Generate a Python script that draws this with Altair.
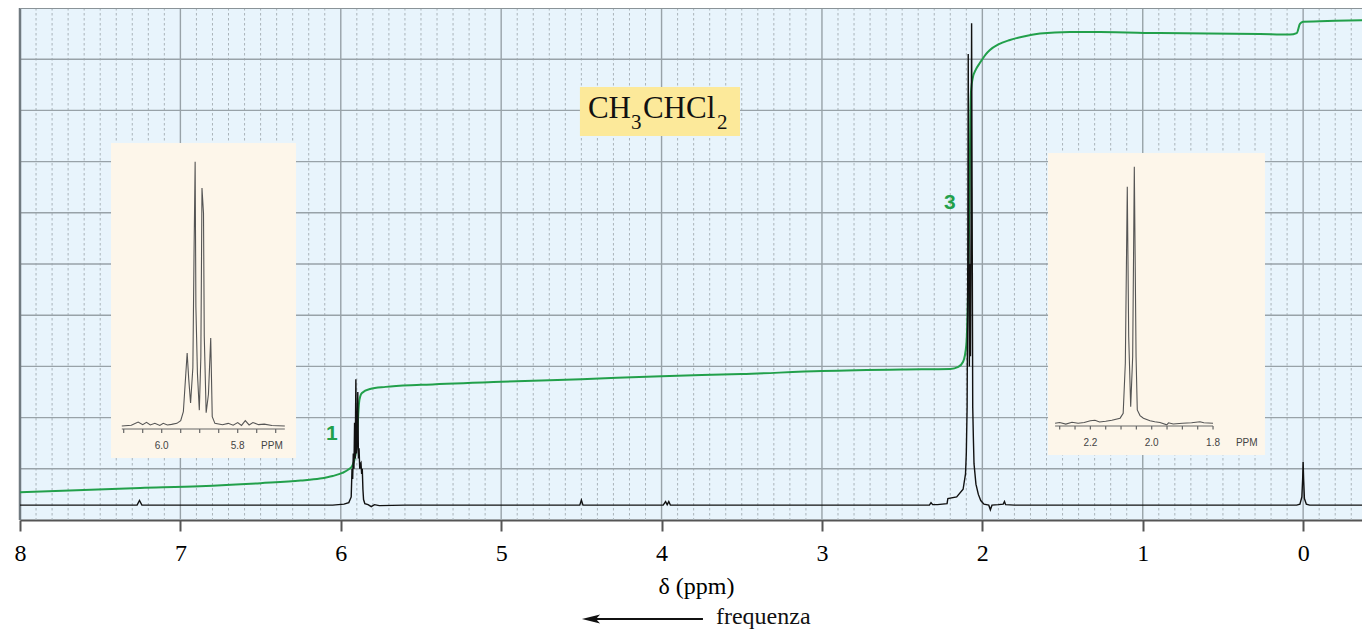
import altair as alt
import pandas as pd

# ---------------- data ----------------
# main 1H spectrum (delta ppm, intensity in grid units)
spec_ppm = [8.0, 7.5, 7.27, 7.255, 7.24, 6.5, 6.05, 5.98, 5.95, 5.935, 5.93, 5.926, 5.922, 5.918,
            5.914, 5.91, 5.906, 5.902, 5.898, 5.894, 5.89, 5.886, 5.882, 5.878, 5.874, 5.87, 5.866,
            5.862, 5.858, 5.85, 5.83, 5.81, 5.79, 5.76, 5.6, 5.0, 4.51, 4.50,
            4.49, 4.2, 3.99, 3.975, 3.965, 3.955, 3.945, 3.6, 2.6, 2.33, 2.32, 2.31, 2.28, 2.22,
            2.215, 2.16, 2.12, 2.105, 2.1, 2.095, 2.091, 2.088, 2.085, 2.081, 2.078, 2.074, 2.07,
            2.067, 2.064, 2.06, 2.056, 2.052, 2.046, 2.04, 2.025,
            2.01, 1.99, 1.96, 1.95, 1.94, 1.9, 1.87, 1.862, 1.855, 1.8, 1.5, 1.0, 0.5, 0.04, 0.02,
            0.008, 0.003, 0.0, -0.003, -0.008, -0.02, -0.04, -0.2, -0.367]
spec_int = [0.29, 0.29, 0.29, 0.38, 0.29, 0.29, 0.29, 0.31, 0.34, 0.45, 1.0, 0.8, 1.3, 1.0,
            1.9, 1.2, 2.75, 1.3, 1.5, 2.5, 1.2, 1.4, 1.0, 1.1, 1.12, 0.9, 1.0,
            0.6, 0.4, 0.32, 0.3, 0.26, 0.3, 0.28, 0.29, 0.29, 0.29, 0.39,
            0.29, 0.29, 0.29, 0.36, 0.3, 0.36, 0.29, 0.29, 0.29, 0.29, 0.34, 0.3, 0.3, 0.32,
            0.42, 0.45, 0.6, 0.9, 1.3, 2.2, 5.0, 9.1, 6.0, 3.0, 5.0, 3.2, 6.0,
            9.7, 6.5, 2.2, 1.6, 1.1, 0.9, 0.7, 0.5,
            0.38, 0.31, 0.29, 0.2, 0.29, 0.3, 0.31, 0.36, 0.3, 0.29, 0.29, 0.29, 0.29, 0.29, 0.31,
            0.45, 0.8, 1.13, 0.8, 0.42, 0.31, 0.29, 0.29, 0.29]

# integral trace (green)
integ_ppm = [8.0, 7.25, 6.88, 6.5, 6.25, 6.13, 6.05, 5.99, 5.95, 5.93, 5.911, 5.899, 5.893, 5.886,
             5.878, 5.868, 5.818, 5.72, 5.5, 5.0, 4.5, 4.0, 3.5, 3.0, 2.5, 2.2, 2.15, 2.12, 2.10,
             2.09, 2.08, 2.075, 2.07, 2.06, 2.04, 2.015, 2.0, 1.98, 1.953, 1.9, 1.828, 1.75, 1.641,
             1.454, 1.267, 0.893, 0.269, 0.082, 0.04, 0.02, 0.0, -0.2, -0.367]
integ_val = [0.54, 0.625, 0.66, 0.72, 0.77, 0.81, 0.86, 0.92, 0.99, 1.05, 1.23, 1.56, 1.95, 2.29,
             2.42, 2.48, 2.56, 2.60, 2.64, 2.70, 2.75, 2.81, 2.85, 2.91, 2.94, 2.95, 2.99, 3.09, 3.42,
             4.30, 6.25, 7.81, 8.40, 8.63, 8.80, 8.93, 9.0, 9.09, 9.18, 9.29, 9.375, 9.44, 9.50,
             9.53, 9.53, 9.51, 9.49, 9.48, 9.51, 9.69, 9.73, 9.75, 9.76]

# inset 1: CH quartet (ppm, relative intensity)
ins1_ppm = [6.105, 6.08, 6.062, 6.05, 6.04, 6.03, 6.018, 6.005, 5.996, 5.985, 5.974, 5.96, 5.95,
            5.943, 5.936, 5.933, 5.929, 5.924, 5.918, 5.915, 5.912, 5.910, 5.906, 5.901, 5.897,
            5.894, 5.890, 5.888, 5.883, 5.877, 5.871, 5.867, 5.86, 5.84, 5.825, 5.812, 5.80, 5.79,
            5.78, 5.77, 5.76, 5.745, 5.73, 5.71, 5.676]
ins1_int = [0, 0.3, 1.5, 0.5, 1.4, 0.4, 1.0, 0.2, 1.0, 0.4, 0.6, 1.0, 2.0,
            5.4, 21, 27.6, 18, 8.7, 22, 64, 100, 45, 20, 6, 26,
            90, 80.5, 34, 5, 12, 33.3, 3.5, 1.0, 0.5, 1.0, 0.3, 1.3, 0.2,
            2.0, 0.4, 1.3, 0.5, 0.7, 0.2, 0]
ins1_ticks = [6.1, 6.05, 6.0, 5.95, 5.9, 5.85, 5.8, 5.75, 5.7]
ins1_lab_pos = [6.0, 5.8, 5.71]
ins1_lab_txt = ["6.0", "5.8", "PPM"]

# inset 2: CH3 doublet
ins2_ppm = [2.315, 2.3, 2.28, 2.26, 2.24, 2.22, 2.2, 2.185, 2.17, 2.15, 2.13, 2.103, 2.093, 2.086,
            2.0796, 2.075, 2.0685, 2.062, 2.0567, 2.051, 2.047, 2.038, 2.027, 2.0055, 1.99, 1.973,
            1.951, 1.945, 1.93, 1.9, 1.87, 1.8425, 1.83, 1.8]
ins2_int = [0, 0.3, -0.3, 0.4, 0, 0.3, 1.0, 1.2, 0.5, 0.8, 1.2, 2.0, 3.9, 23.4,
            92.2, 33.7, 6.5, 26, 100, 26, 5.2, 3.0, 2.0, 1.0, 0.6, 0.3,
            -0.6, 0.2, -0.3, 0, 0.2, 0.6, 0.2, 0]
ins2_ticks = [2.3, 2.25, 2.2, 2.15, 2.1, 2.05, 2.0, 1.95, 1.9, 1.85, 1.8]
ins2_lab_pos = [2.2, 2.0, 1.8, 1.69]
ins2_lab_txt = ["2.2", "2.0", "1.8", "PPM"]

# axis / grid values
major_x = [0, 1, 2, 3, 4, 5, 6, 7, 8]
minor_x = [v / 10 for v in range(-3, 80) if v % 10 != 0]
major_y = [1, 2, 3, 4, 5, 6, 7, 8, 9]

peak_labels = ["1", "3"]
peak_lab_x = [6.055, 2.202]
peak_lab_y = [1.68, 6.19]

# ---------------- styles ----------------
SERIF = "Liberation Serif"
SANS = "Liberation Sans"
GRID = "#98a2a8"
GREEN = "#22a04b"

XS = alt.Scale(domain=[-0.367, 8], reverse=True, nice=False, zero=False)
YS = alt.Scale(domain=[0, 10], nice=False, zero=False)
XAXIS = alt.Axis(values=major_x, format="d", grid=False, domainColor="#555", domainWidth=2,
                 tickColor="#555", tickWidth=2, tickSize=11, labelFont=SERIF, labelFontSize=24,
                 labelColor="black", labelPadding=29, labelBaseline="alphabetic",
                 labelFlush=False, labelOverlap=False,
                 title="δ (ppm)", titleFont=SERIF, titleFontSize=24, titleFontWeight="normal",
                 titleColor="black", titleBaseline="alphabetic", titleY=73, titleX=676)


def MX(f):
    return alt.X(f"{f}:Q", scale=XS, axis=XAXIS)


def MY(f):
    return alt.Y(f"{f}:Q", scale=YS, axis=None)


spec_df = pd.DataFrame({"ppm": spec_ppm, "v": spec_int})
integ_df = pd.DataFrame({"ppm": integ_ppm, "v": integ_val})

minor = alt.Chart(pd.DataFrame({"x": minor_x})).mark_rule(
    color="#aab4ba", strokeWidth=1, strokeDash=[2.5, 2.5]).encode(x=MX("x"))
majx = alt.Chart(pd.DataFrame({"x": major_x})).mark_rule(
    color=GRID, strokeWidth=1.4).encode(x=MX("x"))
majy = alt.Chart(pd.DataFrame({"y": major_y})).mark_rule(
    color=GRID, strokeWidth=1.4).encode(y=MY("y"))
left_border = alt.Chart(pd.DataFrame({"x": [8]})).mark_rule(
    color="#707a80", strokeWidth=2.5).encode(x=MX("x"))
top_border = alt.Chart(pd.DataFrame({"y": [10]})).mark_rule(
    color="#8a9398", strokeWidth=2).encode(y=MY("y"))

integ = alt.Chart(integ_df).mark_line(color=GREEN, strokeWidth=2, interpolate="monotone").encode(
    x=MX("ppm"), y=MY("v"), order="ppm:Q")
spec = alt.Chart(spec_df).mark_line(color="#111", strokeWidth=1.4).encode(
    x=MX("ppm"), y=MY("v"), order="ppm:Q")

plabs = alt.Chart(pd.DataFrame({"x": peak_lab_x, "y": peak_lab_y, "t": peak_labels})).mark_text(
    font=SANS, fontSize=21, fontWeight="bold", color=GREEN, align="center", baseline="middle"
).encode(x=MX("x"), y=MY("y"), text="t:N")

# formula box
fbox = alt.Chart(pd.DataFrame({"x": [4.509], "x2": [3.511], "y": [7.5], "y2": [8.457]})).mark_rect(
    color="#fce99a").encode(x=MX("x"), x2="x2", y=MY("y"), y2="y2")
fpos = pd.DataFrame({"x": [4.459], "y": [7.85]})
formula_parts = [("CH", 31, 0, 0), ("3", 21, 43, 11), ("CHCl", 31, 55, 0), ("2", 21, 129, 11)]
flayers = []
for txt, fs, dx, dy in formula_parts:
    flayers.append(alt.Chart(fpos).mark_text(
        text=txt, font=SERIF, fontSize=fs, color="#111", align="left", baseline="alphabetic",
        dx=dx, dy=dy).encode(x=MX("x"), y=MY("y")))

# frequency arrow + label below the axis
arrow_line = alt.Chart(pd.DataFrame({"x": [4.44], "x2": [3.742], "y": [-1.934]})).mark_rule(
    color="#111", strokeWidth=2).encode(x=MX("x"), x2="x2", y=MY("y"))
arrow_head = alt.Chart(pd.DataFrame({"x": [4.44], "y": [-1.934]})).mark_point(
    shape="M-1,0 L1,-0.5 L0.55,0 L1,0.5 Z", size=330, filled=True, opacity=1, color="#111"
).encode(x=MX("x"), y=MY("y"))
freq = alt.Chart(pd.DataFrame({"x": [3.661], "y": [-2.031], "t": ["frequenza"]})).mark_text(
    font=SERIF, fontSize=24, color="#111", align="left", baseline="alphabetic"
).encode(x=MX("x"), y=MY("y"), text="t:N")

main = alt.layer(minor, majx, majy, left_border, top_border, integ, spec, plabs, fbox,
                 *flayers, arrow_line, arrow_head, freq)


# ---------------- insets ----------------
def inset(ppm, inten, ticks, lab_pos, lab_txt, xdom, ydom, box, axis_y, tick_y2, lab_y):
    sx = alt.Scale(domain=xdom, reverse=True, nice=False, zero=False)
    sy = alt.Scale(domain=ydom, nice=False, zero=False)

    def IX(f):
        return alt.X(f"{f}:Q", scale=sx, axis=None)

    def IY(f):
        return alt.Y(f"{f}:Q", scale=sy, axis=None)

    bg = alt.Chart(pd.DataFrame({"x": [box[0]], "x2": [box[1]], "y": [box[2]], "y2": [box[3]]})
                   ).mark_rect(color="#fdf6ea").encode(x=IX("x"), x2="x2", y=IY("y"), y2="y2")
    line = alt.Chart(pd.DataFrame({"ppm": ppm, "v": inten})).mark_line(
        color="#555", strokeWidth=1.1).encode(x=IX("ppm"), y=IY("v"), order="ppm:Q")
    ax = alt.Chart(pd.DataFrame({"x": [ppm[0]], "x2": [ppm[-1]], "y": [axis_y]})).mark_rule(
        color="#666", strokeWidth=1.2).encode(x=IX("x"), x2="x2", y=IY("y"))
    tk = alt.Chart(pd.DataFrame({"x": ticks, "y": [axis_y] * len(ticks), "y2": [tick_y2] * len(ticks)})
                   ).mark_rule(color="#666", strokeWidth=1.2).encode(x=IX("x"), y=IY("y"), y2="y2")
    lb = alt.Chart(pd.DataFrame({"x": lab_pos, "y": [lab_y] * len(lab_pos), "t": lab_txt})).mark_text(
        font=SANS, fontSize=10, color="#444", align="center", baseline="alphabetic"
    ).encode(x=IX("x"), y=IY("y"), text="t:N")
    return alt.layer(bg, line, ax, tk, lb)


inset1 = inset(ins1_ppm, ins1_int, ins1_ticks, ins1_lab_pos, ins1_lab_txt,
               [2.8413, 6.3729], [-35.57, 158.15], [6.1334, 5.6466, -12.1, 107.1],
               -1.14, -2.65, -8.7)
inset2 = inset(ins2_ppm, ins2_int, ins2_ticks, ins2_lab_pos, ins2_lab_txt,
               [1.3143, 5.690], [-37.69, 161.85], [2.338, 1.6306, -12.35, 105.3],
               -1.05, -2.42, -9.04)

chart = alt.layer(main, inset1, inset2).resolve_scale(
    x="independent", y="independent"
).properties(
    width=1342, height=512,
    autosize=alt.AutoSizeParams(type="none"),
    padding={"left": 12, "top": 0, "right": 0, "bottom": 110},
).configure_view(stroke=None, fill="#e8f4fc")

chart.save("out.html", embed_options={"renderer": "svg", "actions": False})
